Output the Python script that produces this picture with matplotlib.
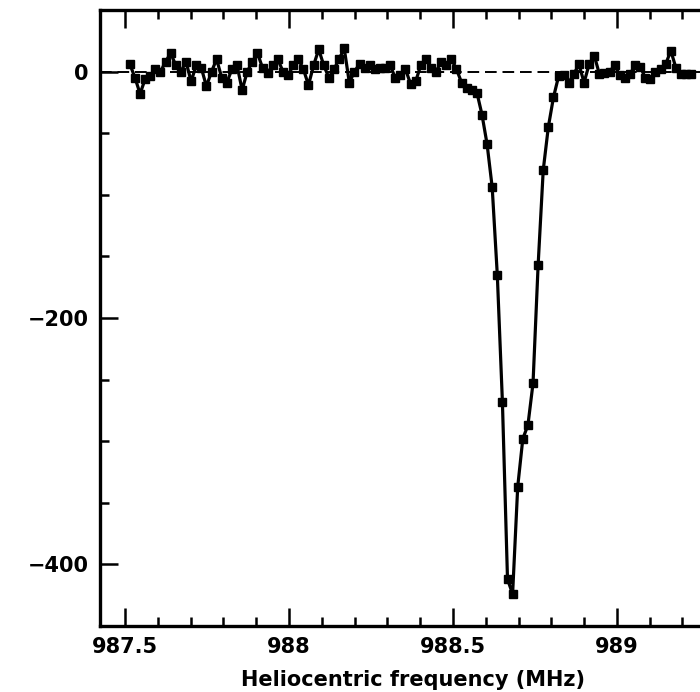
#!/usr/bin/env python3

from __future__ import annotations

import numpy as np
import matplotlib

matplotlib.use("Agg")
import matplotlib.pyplot as plt
from matplotlib.ticker import MultipleLocator


# spectral channels: first channel frequency and channel width (MHz)
FREQ_START = 987.515
CHANNEL_WIDTH = 0.01556

# flux density per channel (mJy)
FLUX = [
    6, -5, -18, -6, -4, 2, 0, 8, 15, 5,
    0, 8, -8, 5, 3, -12, 0, 10, -5, -9,
    2, 5, -15, 0, 8, 15, 3, -1, 5, 10,
    0, -3, 5, 10, 2, -11, 5, 18, 5, -5,
    2, 10, 19, -9, 0, 6, 3, 5, 2, 3,
    3, 5, -5, -3, 2, -10, -8, 5, 10, 3,
    0, 8, 5, 10, 2, -9, -13, -15, -17, -35,
    -59, -94, -165, -268, -412, -424, -337, -298, -287, -253,
    -157, -80, -45, -21, -4, -3, -9, -2, 6, -9,
    6, 13, -2, -1, 0, 5, -3, -5, -2, 5,
    4, -5, -6, 0, 2, 6, 17, 3, -2, -2,
    -2,
]

XLIM = (987.424, 989.33)
YLIM = (-450, 50)
X_MAJOR, X_MINOR = 0.5, 0.1
Y_MAJOR, Y_MINOR = 200, 50


def plot_spectrum(output_path: str) -> None:
    flux = np.array(FLUX, dtype=float)
    freq = FREQ_START + CHANNEL_WIDTH * np.arange(flux.size)

    fig = plt.figure(figsize=(7.0, 6.92), dpi=100)
    # the frame runs past the right edge of the canvas
    ax = fig.add_axes([0.1429, 0.0954, 0.893, 0.8902])

    ax.axhline(0, color="black", linewidth=1.4, linestyle=(0, (6, 3)), zorder=1)
    ax.plot(freq, flux, color="black", linewidth=2.3, marker="s",
            markersize=6.2, zorder=2)

    ax.set_xlim(*XLIM)
    ax.set_ylim(*YLIM)

    ax.xaxis.set_major_locator(MultipleLocator(X_MAJOR))
    ax.xaxis.set_minor_locator(MultipleLocator(X_MINOR))
    ax.yaxis.set_major_locator(MultipleLocator(Y_MAJOR))
    ax.yaxis.set_minor_locator(MultipleLocator(Y_MINOR))
    ax.xaxis.set_major_formatter(lambda v, _: f"{v:g}")
    ax.yaxis.set_major_formatter(lambda v, _: f"{v:g}".replace("-", "\u2212"))

    for spine in ax.spines.values():
        spine.set_linewidth(2.4)

    ax.tick_params(which="both", direction="in", top=True, right=True,
                   width=1.8, labelsize=15)
    ax.tick_params(which="major", length=13, pad=8)
    ax.tick_params(which="minor", length=6.5)
    for label in ax.get_xticklabels() + ax.get_yticklabels():
        label.set_fontweight("bold")

    ax.set_xlabel("Heliocentric frequency (MHz)", fontsize=15,
                  fontweight="bold", labelpad=9)

    fig.savefig(output_path, dpi=100)
    plt.close(fig)


def main() -> int:
    plot_spectrum("out.png")
    return 0


if __name__ == "__main__":
    raise SystemExit(main())
